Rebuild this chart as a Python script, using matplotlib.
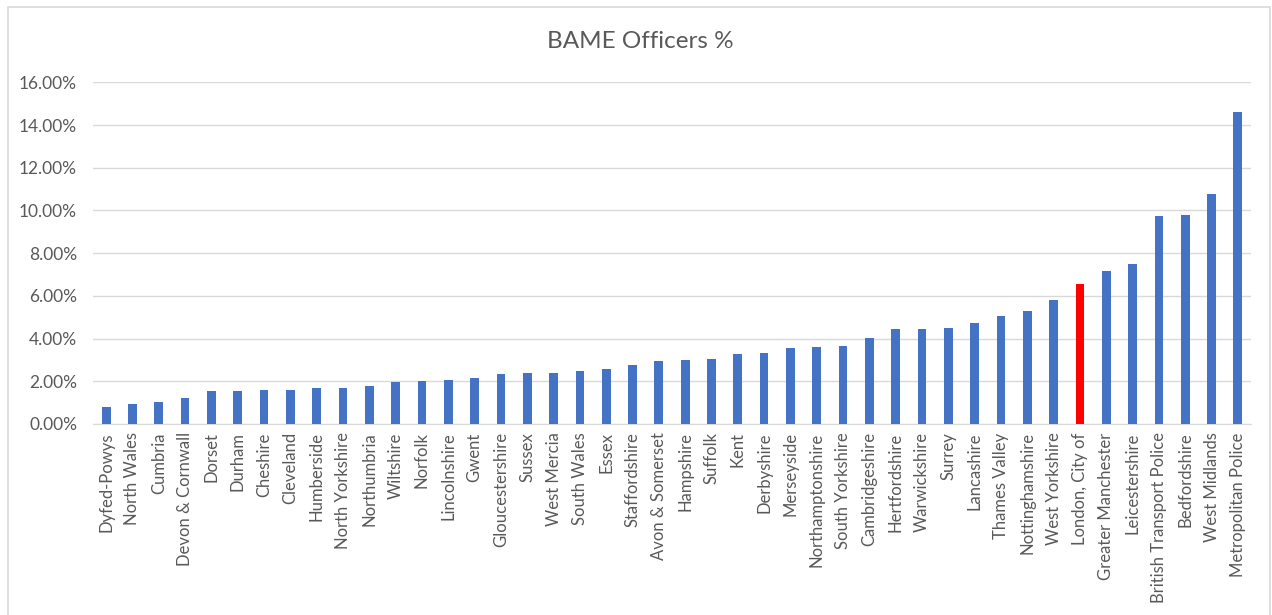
import matplotlib
matplotlib.use("Agg")
import matplotlib.pyplot as plt
from matplotlib.ticker import FuncFormatter, MultipleLocator
from matplotlib.patches import Rectangle

forces = ["Dyfed-Powys", "North Wales", "Cumbria", "Devon & Cornwall", "Dorset", "Durham",
          "Cheshire", "Cleveland", "Humberside", "North Yorkshire", "Northumbria", "Wiltshire",
          "Norfolk", "Lincolnshire", "Gwent", "Gloucestershire", "Sussex", "West Mercia",
          "South Wales", "Essex", "Staffordshire", "Avon & Somerset", "Hampshire", "Suffolk",
          "Kent", "Derbyshire", "Merseyside", "Northamptonshire", "South Yorkshire",
          "Cambridgeshire", "Hertfordshire", "Warwickshire", "Surrey", "Lancashire",
          "Thames Valley", "Nottinghamshire", "West Yorkshire", "London, City of",
          "Greater Manchester", "Leicestershire", "British Transport Police", "Bedfordshire",
          "West Midlands", "Metropolitan Police"]
values = [0.81, 0.92, 1.02, 1.23, 1.55, 1.55, 1.59, 1.59, 1.69, 1.69, 1.78, 1.97,
          2.00, 2.05, 2.17, 2.33, 2.37, 2.37, 2.50, 2.58, 2.76, 2.95, 3.00, 3.03,
          3.26, 3.31, 3.54, 3.59, 3.67, 4.03, 4.43, 4.43, 4.50, 4.72, 5.06, 5.29,
          5.79, 6.54, 7.18, 7.49, 9.76, 9.79, 10.79, 14.61]
highlight = "London, City of"

plt.rcParams['font.family'] = ['Lato', 'DejaVu Sans']
text_color = "#595959"

fig = plt.figure(figsize=(12.72, 6.15), dpi=100)
ax = fig.add_axes([93/1272, (615-424)/615, (1251-93)/1272, (424-82.3)/615])

colors = ["#FF0000" if f == highlight else "#4472C4" for f in forces]
x = list(range(len(forces)))
ax.bar(x, values, width=0.33, color=colors, zorder=3)

ax.set_xlim(-0.5, len(forces) - 0.5)
ax.set_ylim(0, 16)
ax.yaxis.set_major_locator(MultipleLocator(2))
ax.yaxis.set_major_formatter(FuncFormatter(lambda v, p: f"{v:.2f}%"))
ax.grid(axis='y', color="#D9D9D9", linewidth=1, zorder=0)
ax.set_xticks(x)
ax.set_xticklabels(forces, rotation=90, fontsize=12, color=text_color)
ax.tick_params(axis='y', labelsize=12.5, labelcolor=text_color, length=0, pad=11.5)
ax.tick_params(axis='x', length=0, pad=6)
for s in ["top", "right", "left"]:
    ax.spines[s].set_visible(False)
ax.spines["bottom"].set_color("#D9D9D9")

fig.text(0.503, 1 - 42/615, "BAME Officers %", ha='center', va='center',
         fontsize=17.5, color=text_color)

fig.patches.append(Rectangle((8/1272, -0.01), (1270-8)/1272, 1 - 7/615 + 0.01,
                             transform=fig.transFigure, fill=False,
                             edgecolor="#D9D9D9", linewidth=1.2))

fig.savefig("out.png", dpi=100)
